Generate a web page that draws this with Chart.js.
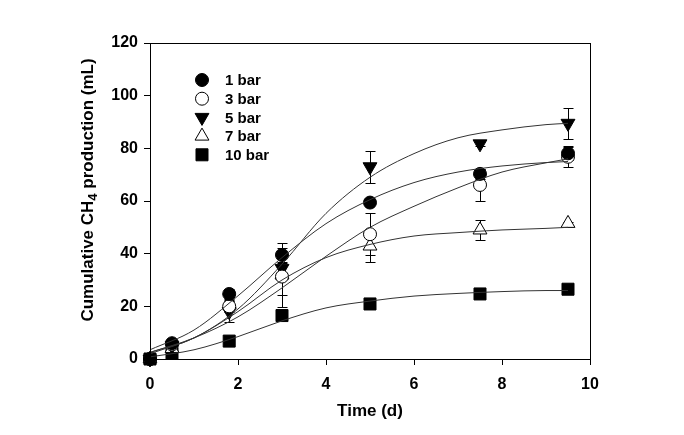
<!DOCTYPE html>
<html>
<head>
<meta charset="utf-8">
<script src="https://cdn.jsdelivr.net/npm/chart.js@4/dist/chart.umd.min.js"></script>
<style>
  html, body { margin: 0; padding: 0; background: #fff; }
  #wrap { width: 684px; height: 435px; }
</style>
</head>
<body>
<div id="wrap"><canvas id="ch4-chart"></canvas></div>
<script>
// sampling times (d)
const times = [0, 0.5, 1.8, 3, 5, 7.5, 9.5];
// measured cumulative CH4 (mL)
const bar1 = [0, 6.0, 24.7, 39.5, 59.4, 70.3, 78.1];
const bar3 = [0, 5.5, 20.0, 31.3, 47.4, 66.1, 76.8];
const bar5 = [0, 5.0, 18.0, 34.4, 73.0, 81.7, 89.5];
const bar7 = [0, 4.0, 20.5, 31.9, 42.9, 49.0, 51.5];
const bar10 = [0, 2.1, 6.8, 16.5, 20.9, 24.7, 26.5];
// error bars (+/-)
const err1 = [0, 0.5, 2, 2.5, 0, 2, 2.5];
const err3 = [0, 0.5, 2, 7, 8, 6, 4];
const err5 = [0, 0.5, 4, 2, 6, 1, 6];
const err7 = [0, 0.5, 2, 12, 6, 3.7, 0.5];
const err10 = [0, 0, 0.5, 1, 1, 1, 1];
// fitted curves
const fitTimes = [0, 1, 2, 3, 4, 5, 6, 7, 8, 9, 9.5];
const fit1 = [3.5, 11, 24, 38.5, 51.4, 60.5, 67, 71, 73.3, 74.6, 75];
const fit3 = [2.5, 8, 16, 27, 39, 50, 58, 65, 71, 74.5, 76];
const fit5 = [2.5, 8, 19, 36, 55.3, 69, 78, 84, 87, 89, 89.5];
const fit7 = [2, 8, 18, 30, 38.5, 43.5, 46.7, 48, 49, 49.6, 50];
const fit10 = [0.8, 3.5, 8.5, 14.5, 19.4, 22, 23.9, 24.9, 25.6, 26, 26];

const labels = ['1 bar', '3 bar', '5 bar', '7 bar', '10 bar'];

const FONT = "'Liberation Sans', Arial, sans-serif";

function pts(xs, ys) {
    return xs.map((x, i) => ({x: x, y: ys[i]}));
}

let markerStyles = [
    {pointStyle: 'circle', radius: 6.5, fill: '#000', rot: 0},
    {pointStyle: 'circle', radius: 6.5, fill: '#fff', rot: 0},
    {pointStyle: 'triangle', radius: 8, fill: '#000', rot: 180},
    {pointStyle: 'triangle', radius: 8, fill: '#fff', rot: 0},
    {pointStyle: 'rect', radius: 8.5, fill: '#000', rot: 0}
];
let measured = [bar1, bar3, bar5, bar7, bar10];
let errors = [err1, err3, err5, err7, err10];
let fits = [fit1, fit3, fit5, fit7, fit10];

let datasets = [];
fits.forEach(function (f) {
    datasets.push({
        type: 'line',
        data: pts(fitTimes, f),
        borderColor: '#333',
        borderWidth: 1,
        pointRadius: 0,
        fill: false,
        cubicInterpolationMode: 'monotone'
    });
});
measured.forEach(function (m, i) {
    let s = markerStyles[i];
    datasets.push({
        type: 'scatter',
        label: labels[i],
        data: pts(times, m),
        errors: errors[i],
        showLine: false,
        pointStyle: s.pointStyle,
        pointRadius: s.radius,
        pointRotation: s.rot,
        pointBackgroundColor: s.fill,
        pointBorderColor: '#000',
        pointBorderWidth: 1,
        clip: false
    });
});

const errorBars = {
    id: 'errorBars',
    beforeDatasetsDraw(chart) {
        let ctx = chart.ctx;
        let xs = chart.scales.x, ys = chart.scales.y;
        ctx.save();
        ctx.strokeStyle = '#000';
        ctx.lineWidth = 1;
        chart.data.datasets.forEach(function (ds) {
            if (!ds.errors) return;
            ds.data.forEach(function (p, i) {
                let e = ds.errors[i];
                if (!e) return;
                let px = Math.round(xs.getPixelForValue(p.x)) + 0.5;
                let top = Math.round(ys.getPixelForValue(p.y + e)) + 0.5;
                let bot = Math.round(ys.getPixelForValue(p.y - e)) + 0.5;
                ctx.beginPath();
                ctx.moveTo(px, top); ctx.lineTo(px, bot);
                ctx.moveTo(px - 5, top); ctx.lineTo(px + 5, top);
                ctx.moveTo(px - 5, bot); ctx.lineTo(px + 5, bot);
                ctx.stroke();
            });
        });
        ctx.restore();
    }
};

function drawMarker(ctx, s, x, y) {
    ctx.beginPath();
    if (s.pointStyle === 'circle') {
        ctx.arc(x, y, s.radius, 0, Math.PI * 2);
    } else if (s.pointStyle === 'rect') {
        let h = s.radius * Math.SQRT1_2;
        ctx.rect(x - h, y - h, 2 * h, 2 * h);
    } else {
        let r = s.radius;
        let dir = s.rot === 180 ? -1 : 1;
        ctx.moveTo(x, y - dir * r);
        ctx.lineTo(x + r * Math.sin(Math.PI / 3), y + dir * r * 0.5);
        ctx.lineTo(x - r * Math.sin(Math.PI / 3), y + dir * r * 0.5);
        ctx.closePath();
    }
    ctx.fillStyle = s.fill;
    ctx.fill();
    ctx.stroke();
}

const decorations = {
    id: 'decorations',
    afterDraw(chart) {
        let ctx = chart.ctx;
        let a = chart.chartArea;
        ctx.save();
        // frame
        ctx.strokeStyle = '#000';
        ctx.lineWidth = 1;
        ctx.strokeRect(Math.round(a.left) + 0.5, Math.round(a.top) + 0.5,
            Math.round(a.right - a.left), Math.round(a.bottom - a.top));
        // legend
        labels.forEach(function (lab, i) {
            let y = 80 + i * 18.7;
            drawMarker(ctx, markerStyles[i], 202, y);
            ctx.fillStyle = '#000';
            ctx.font = 'bold 15px ' + FONT;
            ctx.textBaseline = 'middle';
            ctx.textAlign = 'left';
            ctx.fillText(lab, 225, y + 1);
        });
        // x title
        ctx.font = 'bold 17px ' + FONT;
        ctx.textAlign = 'center';
        ctx.textBaseline = 'middle';
        ctx.fillText('Time (d)', (a.left + a.right) / 2, 411);
        // y title with subscript
        ctx.translate(88, 190);
        ctx.rotate(-Math.PI / 2);
        let p1 = 'Cumulative CH', sub = '4', p2 = ' production (mL)';
        ctx.font = 'bold 17px ' + FONT;
        let w1 = ctx.measureText(p1).width;
        let w3 = ctx.measureText(p2).width;
        ctx.font = 'bold 13px ' + FONT;
        let w2 = ctx.measureText(sub).width;
        let x0 = -(w1 + w2 + w3) / 2;
        ctx.textAlign = 'left';
        ctx.font = 'bold 17px ' + FONT;
        ctx.fillText(p1, x0, 0);
        ctx.font = 'bold 13px ' + FONT;
        ctx.fillText(sub, x0 + w1, 5);
        ctx.font = 'bold 17px ' + FONT;
        ctx.fillText(p2, x0 + w1 + w2, 0);
        ctx.restore();
    }
};

const ctx = document.getElementById('ch4-chart').getContext('2d');
new Chart(ctx, {
    data: { datasets: datasets },
    options: {
        responsive: true,
        maintainAspectRatio: false,
        animation: false,
        layout: { padding: { left: 0, top: 43, right: 94, bottom: 0 } },
        plugins: {
            legend: { display: false },
            tooltip: { enabled: false }
        },
        scales: {
            x: {
                type: 'linear',
                min: 0, max: 10,
                afterFit(scale) { scale.height = 76; },
                ticks: {
                    stepSize: 2,
                    color: '#000',
                    padding: 10,
                    font: { family: FONT, size: 16, weight: 'bold' }
                },
                grid: {
                    drawOnChartArea: false,
                    drawTicks: true,
                    tickLength: 6,
                    color: '#000'
                },
                border: { display: true, color: '#000' }
            },
            y: {
                type: 'linear',
                min: 0, max: 120,
                afterFit(scale) { scale.width = 150; },
                ticks: {
                    stepSize: 20,
                    color: '#000',
                    padding: 6,
                    font: { family: FONT, size: 16, weight: 'bold' }
                },
                grid: {
                    drawOnChartArea: false,
                    drawTicks: true,
                    tickLength: 6,
                    color: '#000'
                },
                border: { display: true, color: '#000' }
            }
        }
    },
    plugins: [errorBars, decorations]
});
</script>
</body>
</html>
